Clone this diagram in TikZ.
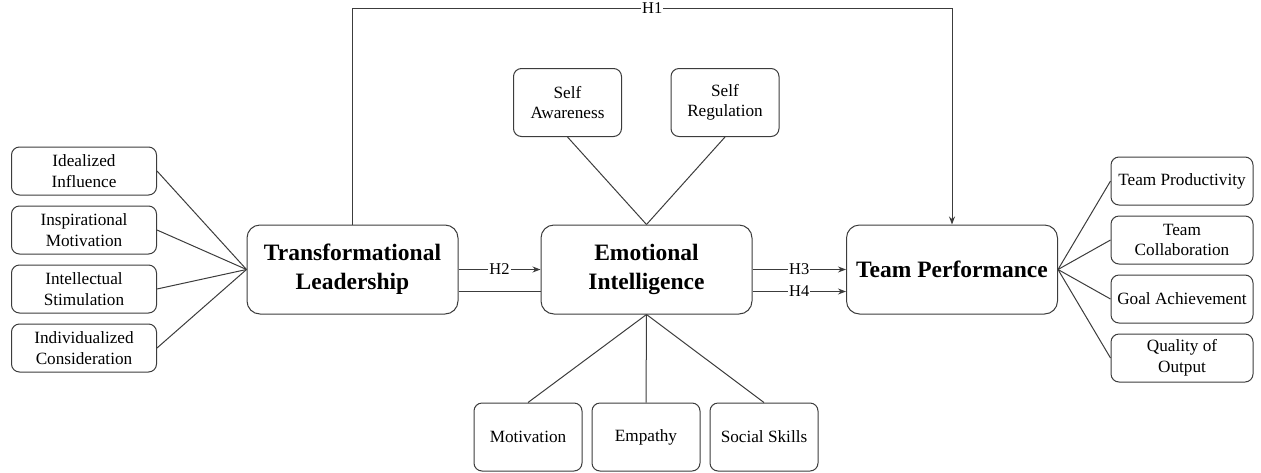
\documentclass[tikz,border=0pt]{standalone}
\usepackage{fontspec}
\setmainfont{Liberation Serif}
\usetikzlibrary{arrows.meta}
\definecolor{linegray}{HTML}{3C3C3C}
\tikzset{
  mainbox/.style={draw=linegray, line width=1pt, rounded corners=13pt, align=center,
    minimum width=211pt, minimum height=89pt, font=\fontsize{23.5}{29}\selectfont\bfseries},
  subbox/.style={draw=linegray, line width=1pt, rounded corners=8pt, align=center,
    inner sep=1pt, font=\fontsize{17.2}{20.5}\selectfont},
  sidebox/.style={subbox, minimum width=145pt, minimum height=48pt},
  tallbox/.style={subbox, minimum width=108pt, minimum height=68pt},
  link/.style={draw=linegray, line width=1pt},
  arr/.style={link, -{Stealth[length=8pt,width=6pt]}},
  hlbl/.style={fill=white, inner sep=1pt, font=\fontsize{16.5}{19}\selectfont}
}
\begin{document}
\begin{tikzpicture}[x=1pt, y=-1pt]
  \useasboundingbox (0,0) rectangle (1261,472);

  % main constructs
  \node [mainbox] (trl) at (352.5,269.5) {Transformational\\Leadership};
  \node [mainbox] (ei)  at (646.5,269.5) {Emotional\\Intelligence};
  \node [mainbox] (tp)  at (952,269.5)   {Team Performance};

  % leadership dimensions
  \foreach \l [count=\y] in {{Idealized\\Influence},{Inspirational\\Motivation},
      {Intellectual\\Stimulation},{Individualized\\Consideration}}
      \node [sidebox] (lead-\y) at (84,112+59*\y) {\l};

  % performance dimensions
  \foreach \l [count=\y] in {{Team Productivity},{Team\\Collaboration},
      {Goal Achievement},{Quality of\\Output}}
      \node [sidebox, minimum width=142pt] (perf-\y) at (1182,122+59*\y) {\l};

  % emotional intelligence dimensions
  \node [tallbox] (aware) at (567.5,102.5) {Self\\Awareness};
  \node [tallbox] (regul) at (725,102.5)   {Self\\Regulation};
  \foreach \m/\l [count=\y] in {motiv/Motivation,empat/Empathy,social/Social Skills}
      \node [tallbox] (\m) at (410+118*\y,437) {\l};

  % links
  \foreach \y in {1,...,4}
      \draw [link] (lead-\y.east) -- (trl.west);
  \foreach \y in {1,...,4}
      \draw [link] (tp.east) -- (perf-\y.west);
  \foreach \m in {aware,regul}
      \draw [link] (\m.south) -- (ei.north);
  \foreach \m in {motiv,empat,social}
      \draw [link] (ei.south) -- (\m.north);

  % hypotheses
  \coordinate (top) at (652,8);
  \draw [arr] (trl.north) -- (trl.north |- top) -- node[hlbl]{H1} (tp.north |- top) -- (tp.north);
  \draw [arr] (trl.east) -- node[hlbl]{H2} (ei.west);
  \draw [link] ([yshift=-22pt]trl.east) -- ([yshift=-22pt]ei.west);
  \draw [arr] (ei.east) -- node[hlbl]{H3} (tp.west);
  \draw [arr] ([yshift=-22pt]ei.east) -- node[hlbl]{H4} ([yshift=-22pt]tp.west);

\end{tikzpicture}
\end{document}
